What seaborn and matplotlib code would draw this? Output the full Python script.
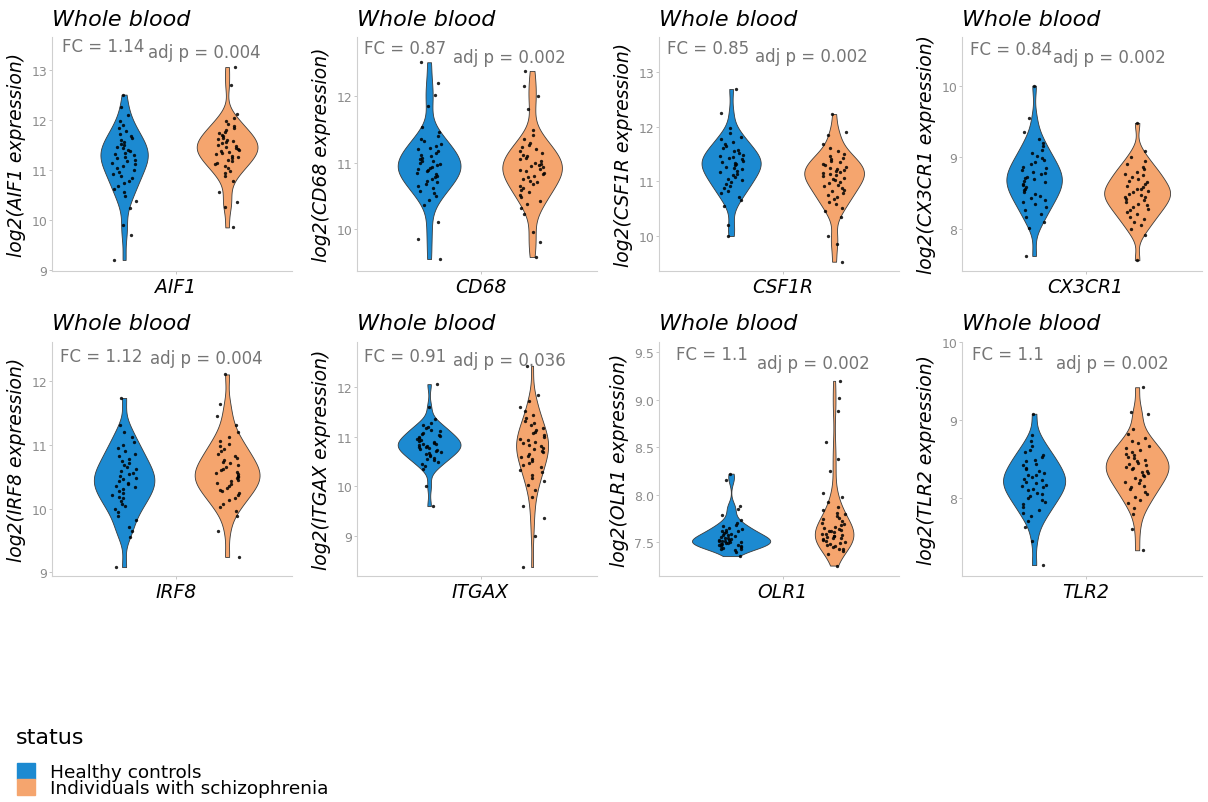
import numpy as np
import pandas as pd
import matplotlib
matplotlib.use("Agg")
import matplotlib.pyplot as plt
import seaborn as sns
from matplotlib.patches import Patch

sns.set_style("white")
plt.rcParams["font.family"] = ["DejaVu Sans"]

# ---------------- data ----------------
status_levels = ["Healthy controls", "Individuals with schizophrenia"]
genes = ["AIF1", "CD68", "CSF1R", "CX3CR1", "IRF8", "ITGAX", "OLR1", "TLR2"]
fc_values = ["1.14", "0.87", "0.85", "0.84", "1.12", "0.91", "1.1", "1.1"]
adj_p_values = ["0.004", "0.002", "0.002", "0.002", "0.004", "0.036", "0.002", "0.002"]

aif1_hc = [9.2, 9.7, 9.9,
           10.24, 10.38, 10.48, 10.55, 10.62, 10.68, 10.73, 10.78, 10.83, 10.88,
           10.92, 10.96, 11.00, 11.04, 11.07, 11.11, 11.14, 11.17, 11.20, 11.23,
           11.26, 11.29, 11.31, 11.34, 11.37, 11.40, 11.43, 11.46, 11.49, 11.52,
           11.56, 11.60, 11.64, 11.68, 11.72, 11.77, 11.83, 11.90, 11.98, 12.09,
           12.25, 12.5]
aif1_sz = [9.85, 10.25, 10.35, 10.55,
           10.78, 10.87, 10.93, 10.98, 11.03, 11.07, 11.11, 11.14, 11.17, 11.20,
           11.23, 11.26, 11.28, 11.31, 11.33, 11.35, 11.38, 11.40, 11.42, 11.44,
           11.46, 11.48, 11.50, 11.53, 11.55, 11.57, 11.59, 11.62, 11.64, 11.67,
           11.70, 11.73, 11.76, 11.79, 11.83, 11.87, 11.92, 11.97, 12.03, 12.12,
           12.7, 13.05]
cd68_hc = [9.55, 9.85, 10.1,
           10.36, 10.44, 10.50, 10.54, 10.58, 10.62, 10.65, 10.68, 10.71, 10.73,
           10.76, 10.78, 10.80, 10.83, 10.85, 10.87, 10.89, 10.90, 10.92, 10.94,
           10.96, 10.98, 11.00, 11.02, 11.03, 11.05, 11.07, 11.10, 11.12, 11.15,
           11.17, 11.20, 11.22, 11.25, 11.28, 11.32, 11.35, 11.40, 11.46, 11.54,
           11.85, 12.02, 12.2, 12.51]
cd68_sz = [9.58, 9.8, 9.95,
           10.23, 10.32, 10.38, 10.43, 10.48, 10.52, 10.56, 10.59, 10.62, 10.65,
           10.68, 10.71, 10.73, 10.76, 10.78, 10.80, 10.83, 10.85, 10.87, 10.89,
           10.91, 10.93, 10.95, 10.97, 10.98, 11.00, 11.02, 11.05, 11.07, 11.10,
           11.12, 11.15, 11.17, 11.20, 11.23, 11.27, 11.30, 11.35, 11.41, 11.49,
           11.8, 12.0, 12.15, 12.38]
csf1r_hc = [10.0, 10.2,
            10.54, 10.65, 10.72, 10.78, 10.83, 10.87, 10.91, 10.95, 10.99, 11.02,
            11.05, 11.08, 11.11, 11.14, 11.17, 11.19, 11.22, 11.24, 11.27, 11.29,
            11.31, 11.33, 11.35, 11.38, 11.40, 11.42, 11.44, 11.47, 11.49, 11.52,
            11.55, 11.58, 11.61, 11.64, 11.68, 11.72, 11.77, 11.82, 11.88, 11.97,
            12.25, 12.69]
csf1r_sz = [9.53, 9.85, 10.0,
            10.34, 10.45, 10.52, 10.58, 10.63, 10.67, 10.71, 10.75, 10.79, 10.82,
            10.85, 10.88, 10.91, 10.94, 10.97, 10.99, 11.02, 11.04, 11.07, 11.09,
            11.11, 11.13, 11.15, 11.17, 11.18, 11.20, 11.22, 11.25, 11.27, 11.30,
            11.32, 11.35, 11.37, 11.40, 11.43, 11.47, 11.50, 11.55, 11.61, 11.69,
            11.85, 11.9, 12.23]
cx3cr1_hc = [7.62,
             8.01, 8.10, 8.16, 8.21, 8.26, 8.30, 8.34, 8.37, 8.40, 8.43,
             8.46, 8.49, 8.51, 8.54, 8.56, 8.58, 8.61, 8.63, 8.65, 8.67,
             8.69, 8.71, 8.73, 8.76, 8.78, 8.80, 8.82, 8.85, 8.87, 8.90,
             8.93, 8.96, 8.99, 9.02, 9.06, 9.10, 9.15, 9.20, 9.26, 9.35,
             9.55, 10.0]
cx3cr1_sz = [7.56,
             7.91, 7.99, 8.05, 8.09, 8.13, 8.17, 8.20, 8.23, 8.26, 8.28,
             8.31, 8.33, 8.35, 8.38, 8.40, 8.42, 8.44, 8.45, 8.47, 8.49,
             8.51, 8.53, 8.55, 8.56, 8.58, 8.60, 8.62, 8.65, 8.67, 8.70,
             8.72, 8.75, 8.77, 8.80, 8.83, 8.87, 8.90, 8.95, 9.01, 9.09,
             9.48]
irf8_hc = [9.08, 9.55, 9.65,
           9.71, 9.82, 9.89, 9.95, 10.00, 10.04, 10.08, 10.12, 10.16, 10.19,
           10.22, 10.25, 10.28, 10.31, 10.34, 10.36, 10.39, 10.41, 10.44, 10.46,
           10.48, 10.51, 10.54, 10.56, 10.59, 10.62, 10.65, 10.68, 10.71, 10.75,
           10.78, 10.82, 10.86, 10.90, 10.95, 11.00, 11.05, 11.12, 11.20, 11.31,
           11.74]
irf8_sz = [9.24, 9.65,
           9.88, 9.97, 10.03, 10.08, 10.13, 10.17, 10.21, 10.24, 10.27, 10.30,
           10.33, 10.36, 10.38, 10.41, 10.43, 10.45, 10.48, 10.50, 10.52, 10.54,
           10.56, 10.58, 10.61, 10.63, 10.66, 10.68, 10.71, 10.74, 10.77, 10.80,
           10.83, 10.86, 10.90, 10.94, 10.98, 11.02, 11.07, 11.13, 11.20, 11.31,
           11.45, 11.65, 12.11]
itgax_hc = [9.6, 10.0,
            10.34, 10.40, 10.45, 10.49, 10.52, 10.55, 10.58, 10.61, 10.63, 10.65,
            10.68, 10.70, 10.72, 10.73, 10.75, 10.77, 10.79, 10.80, 10.82, 10.83,
            10.85, 10.86, 10.88, 10.90, 10.91, 10.93, 10.95, 10.97, 10.99, 11.01,
            11.03, 11.06, 11.08, 11.11, 11.14, 11.17, 11.20, 11.23, 11.28, 11.35,
            11.6, 12.06]
itgax_sz = [8.37, 9.0, 9.35, 9.6,
            9.79, 9.93, 10.03, 10.10, 10.17, 10.23, 10.28, 10.33, 10.38, 10.43,
            10.47, 10.51, 10.55, 10.59, 10.62, 10.66, 10.69, 10.72, 10.75, 10.78,
            10.81, 10.84, 10.87, 10.90, 10.93, 10.96, 11.00, 11.03, 11.07, 11.10,
            11.14, 11.18, 11.23, 11.27, 11.32, 11.38, 11.44, 11.51, 11.60, 11.73,
            11.85, 12.43]
olr1_hc = [7.35,
           7.39, 7.41, 7.42, 7.43, 7.44, 7.45, 7.46, 7.46, 7.47, 7.47,
           7.48, 7.48, 7.49, 7.49, 7.50, 7.50, 7.51, 7.51, 7.51, 7.52,
           7.52, 7.53, 7.54, 7.54, 7.55, 7.56, 7.57, 7.57, 7.58, 7.59,
           7.60, 7.61, 7.62, 7.63, 7.64, 7.65, 7.67, 7.68, 7.70, 7.73,
           7.78, 7.85, 7.88, 8.15, 8.22]
olr1_sz = [7.25,
           7.37, 7.40, 7.42, 7.43, 7.45, 7.46, 7.47, 7.48, 7.49, 7.50,
           7.51, 7.52, 7.53, 7.54, 7.54, 7.55, 7.56, 7.56, 7.57, 7.58,
           7.58, 7.60, 7.61, 7.62, 7.63, 7.64, 7.65, 7.66, 7.68, 7.69,
           7.70, 7.72, 7.74, 7.75, 7.77, 7.79, 7.81, 7.84, 7.87, 7.92,
           7.97, 8.02, 8.25, 8.37, 8.55, 8.88, 9.02, 9.2]
tlr2_hc = [7.14, 7.45,
           7.63, 7.71, 7.77, 7.81, 7.85, 7.89, 7.92, 7.95, 7.98, 8.00,
           8.03, 8.05, 8.07, 8.10, 8.12, 8.14, 8.16, 8.17, 8.19, 8.21,
           8.23, 8.25, 8.27, 8.29, 8.30, 8.32, 8.34, 8.37, 8.39, 8.42,
           8.44, 8.47, 8.49, 8.52, 8.55, 8.59, 8.62, 8.67, 8.73, 8.81,
           9.08]
tlr2_sz = [7.33, 7.6,
           7.79, 7.87, 7.93, 7.97, 8.01, 8.05, 8.08, 8.11, 8.14, 8.16,
           8.19, 8.21, 8.23, 8.26, 8.28, 8.30, 8.32, 8.33, 8.35, 8.37,
           8.39, 8.40, 8.42, 8.43, 8.45, 8.47, 8.49, 8.51, 8.53, 8.55,
           8.57, 8.59, 8.61, 8.64, 8.67, 8.70, 8.73, 8.77, 8.82, 8.89,
           9.08, 9.1, 9.42]

healthy = [aif1_hc, cd68_hc, csf1r_hc, cx3cr1_hc, irf8_hc, itgax_hc, olr1_hc, tlr2_hc]
schizo = [aif1_sz, cd68_sz, csf1r_sz, cx3cr1_sz, irf8_sz, itgax_sz, olr1_sz, tlr2_sz]

y_ticks = [[9, 10, 11, 12, 13], [10, 11, 12], [10, 11, 12, 13], [8, 9, 10],
           [9, 10, 11, 12], [9, 10, 11, 12], [7.5, 8.0, 8.5, 9.0, 9.5], [8, 9, 10]]

# ---------------- layout / style ----------------
y_limits = [(8.98, 13.65), (9.37, 12.89), (9.36, 13.64), (7.41, 10.68),
            (8.94, 12.62), (8.19, 12.91), (7.14, 9.61), (7.0, 9.95)]
violin_widths = [0.59, 0.61, 0.58, 0.64, 0.63, 0.61, 0.76, 0.61]
fc_pos = [(0.04, 0.96), (0.03, 0.955), (0.035, 0.955), (0.035, 0.95),
          (0.035, 0.94), (0.03, 0.94), (0.07, 0.95), (0.04, 0.95)]
p_pos = [(0.40, 0.935), (0.40, 0.915), (0.40, 0.92), (0.38, 0.915),
         (0.41, 0.93), (0.40, 0.925), (0.41, 0.91), (0.39, 0.91)]
col_left = [52, 357, 659, 962]
col_width = 240
row_top = [38, 343]
row_height = 234
W, H = 1208, 803
palette = ["#1c8ad1", "#f5a56e"]

fig = plt.figure(figsize=(W / 100, H / 100), dpi=100)
np.random.seed(7)

for i, gene in enumerate(genes):
    r, c = divmod(i, 4)
    left = col_left[c] / W
    bottom = 1 - (row_top[r] + row_height) / H
    ax = fig.add_axes([left, bottom, col_width / W, row_height / H])

    d = pd.DataFrame({
        "expr": healthy[i] + schizo[i],
        "status": [status_levels[0]] * len(healthy[i]) + [status_levels[1]] * len(schizo[i]),
    })
    sns.violinplot(data=d, x="status", y="expr", hue="status", order=status_levels,
                   hue_order=status_levels, palette=palette, saturation=1, cut=0,
                   inner=None, width=violin_widths[i], linewidth=0.6, linecolor="#3a3a3a",
                   bw_adjust=0.72, density_norm="area", common_norm=True,
                   legend=False, ax=ax)
    sns.stripplot(data=d, x="status", y="expr", order=status_levels, color="black",
                  size=2.4, jitter=0.12, alpha=0.85, ax=ax)

    ax.set_xlim(-0.70, 1.63)
    ax.set_ylim(*y_limits[i])
    ax.set_yticks(y_ticks[i])
    if gene == "OLR1":
        ax.set_yticklabels([f"{t:.1f}" for t in y_ticks[i]])
    else:
        ax.set_yticklabels([f"{t:g}" for t in y_ticks[i]])
    ax.set_xticks([0.5])
    ax.set_xticklabels([gene], fontstyle="italic", fontsize=13.5, color="black")
    ax.set_xlabel("")
    ax.set_ylabel(f"log2({gene} expression)", fontstyle="italic", fontsize=13.5,
                  color="black", labelpad=4)
    ax.set_title("Whole blood", loc="left", fontstyle="italic", fontsize=16, pad=9,
                 color="black")

    for s in ["top", "right"]:
        ax.spines[s].set_visible(False)
    for s in ["left", "bottom"]:
        ax.spines[s].set_color("#cfcfcf")
        ax.spines[s].set_linewidth(0.8)
    ax.tick_params(axis="y", length=2, width=0.6, color="#bdbdbd", labelsize=9,
                   labelcolor="#8c8c8c", pad=1.5, left=True)
    ax.tick_params(axis="x", length=2, width=0.6, color="#bdbdbd", pad=2, bottom=True)
    ax.grid(False)

    ax.text(fc_pos[i][0], fc_pos[i][1], f"FC = {fc_values[i]}", transform=ax.transAxes,
            ha="left", va="center", fontsize=12, color="#757575")
    ax.text(p_pos[i][0], p_pos[i][1], f"adj p = {adj_p_values[i]}", transform=ax.transAxes,
            ha="left", va="center", fontsize=12, color="#757575")

fig.text(16 / W, 1 - 738 / H, "status", ha="left", va="center", fontsize=16, color="black")
handles = [Patch(facecolor=col, edgecolor=col) for col in palette]
leg = fig.legend(handles, status_levels, loc="upper left",
                 bbox_to_anchor=(17 / W, 1 - 764 / H), frameon=False, fontsize=13.3,
                 handlelength=0.95, handleheight=0.95, handletextpad=0.85,
                 labelspacing=-0.12, borderaxespad=0, borderpad=0, alignment="left")
for t in leg.get_texts():
    t.set_color("black")

fig.savefig("out.png", dpi=100)
